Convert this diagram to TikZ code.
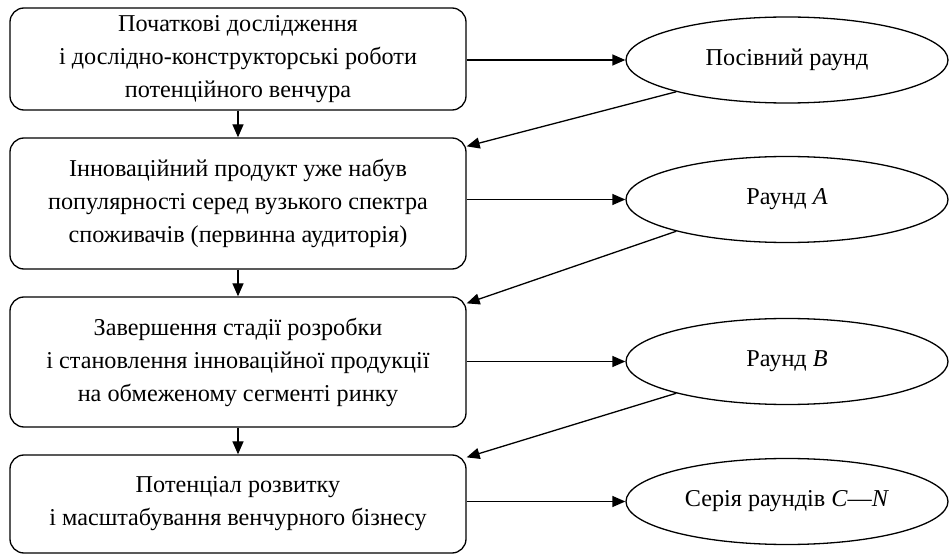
\documentclass[tikz,border=0pt]{standalone}
\usepackage{fontspec}
\setmainfont{Liberation Serif}
\usetikzlibrary{arrows.meta,shapes.geometric}

\begin{document}
\begin{tikzpicture}[x=0.5pt, y=-0.5pt,
  stage/.style={draw, rounded corners=7pt, align=center, minimum width=228pt,
    line width=0.65pt, font=\fontsize{12.1}{16.5}\selectfont},
  round/.style={draw, ellipse, minimum width=161pt, minimum height=43pt,
    line width=0.65pt, font=\fontsize{12.1}{16.5}\selectfont},
  link/.style={-{Triangle[length=6.5pt,width=5.5pt]}, line width=0.65pt}]
  \useasboundingbox (0,0) rectangle (950,556);

  % Stages (left column)
  \node[stage, minimum height=51pt] (b1) at (238,59)
    {Початкові дослідження\\і дослідно-конструкторські роботи\\потенційного венчура};
  \node[stage, minimum height=65.5pt] (b2) at (238,203.5)
    {Інноваційний продукт уже набув\\популярності серед вузького спектра\\споживачів (первинна аудиторія)};
  \node[stage, minimum height=65pt] (b3) at (238,362)
    {Завершення стадії розробки\\і становлення інноваційної продукції\\на обмеженому сегменті ринку};
  \node[stage, minimum height=49pt] (b4) at (238,504)
    {Потенціал розвитку\\і масштабування венчурного бізнесу};

  % Funding rounds (right column)
  \node[round] (e1) at (787,60) {Посівний раунд};
  \node[round] (e2) at (787,199.5) {Раунд \textit{A}};
  \node[round] (e3) at (787,361.5) {Раунд \textit{B}};
  \node[round] (e4) at (787,501.5) {Серія раундів \textit{C}---\textit{N}};

  % Stage to stage
  \foreach \i/\j in {1/2, 2/3, 3/4}
    \draw[link] (b\i) -- (b\j);

  % Stage to round
  \foreach \i in {1,...,4}
    \draw[link] (b\i.east |- e\i) -- (e\i.west);

  % Round back to next stage
  \foreach \i/\j/\d in {1/2/4.5, 2/3/3.5, 3/4/1.5}
    \draw[link] (e\i.196) -- ([yshift=-\d pt]b\j.north east);
\end{tikzpicture}
\end{document}
